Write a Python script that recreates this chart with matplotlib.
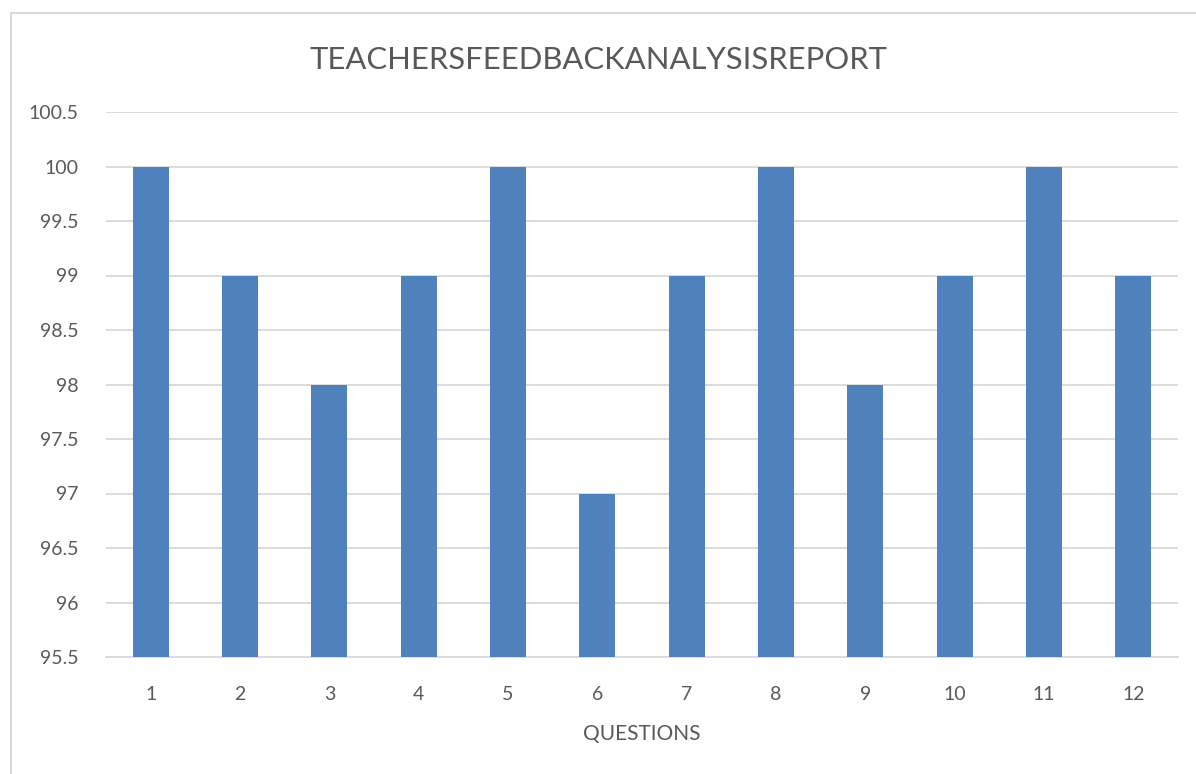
import matplotlib
matplotlib.use("Agg")
import matplotlib.pyplot as plt
from matplotlib.patches import Rectangle

questions = [str(i) for i in range(1, 13)]
scores = [100, 99, 98, 99, 100, 97, 99, 100, 98, 99, 100, 99]
yticks = [95.5, 96, 96.5, 97, 97.5, 98, 98.5, 99, 99.5, 100, 100.5]
title = "TEACHERSFEEDBACKANALYSISREPORT"
xlabel = "QUESTIONS"

plt.rcParams['font.family'] = ['Lato', 'DejaVu Sans']
W, H = 1196, 774
fig = plt.figure(figsize=(W / 100, H / 100), dpi=100)
fig.patches.append(Rectangle((11 / W, -0.1), 1.2, 1 - 13 / H + 0.1, transform=fig.transFigure,
                             fill=False, edgecolor='#d9d9d9', linewidth=1.5))
ax = fig.add_axes([106 / W, 1 - 657 / H, (1178 - 106) / W, (657 - 112) / H])

x = list(range(len(questions)))
ax.bar(x, scores, width=0.4, color='#4F81BD', zorder=3)
ax.set_xlim(-0.5, len(questions) - 0.5)
ax.set_ylim(95.5, 100.5)
ax.set_yticks(yticks)
ax.set_yticklabels([f"{v:g}" for v in yticks])
ax.set_xticks(x)
ax.set_xticklabels(questions)
ax.grid(axis='y', color='#d9d9d9', linewidth=1.3, zorder=0)
for s in ['top', 'right', 'left']:
    ax.spines[s].set_visible(False)
ax.spines['bottom'].set_color('#d9d9d9')
ax.spines['bottom'].set_linewidth(1.3)
ax.tick_params(axis='both', length=0, labelsize=14, labelcolor='#595959')
ax.tick_params(axis='y', pad=20)
ax.tick_params(axis='x', pad=21)
ax.set_xlabel(xlabel, fontsize=15, color='#595959', labelpad=15)
fig.text(598 / W, 1 - 60 / H, title, ha='center', va='center', fontsize=22.3, color='#595959')

fig.savefig("out.png", dpi=100)
